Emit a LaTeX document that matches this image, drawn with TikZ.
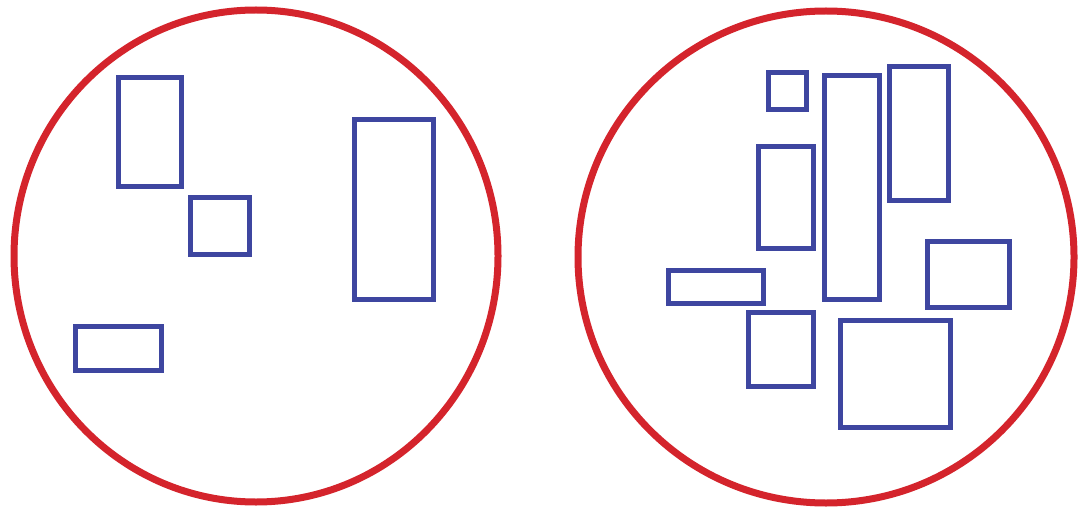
\documentclass[tikz,border=0pt]{standalone}
\definecolor{ringred}{RGB}{212,36,44}
\definecolor{boxblue}{RGB}{62,70,160}
\tikzset{ring/.style={draw=ringred,line width=7pt},
  blk/.style={draw=boxblue,line width=5pt}}
\begin{document}
\begin{tikzpicture}[x=1pt,y=-1pt]
\useasboundingbox[fill=white] (0,0) rectangle (1081,513);
% left circle
\draw[ring] (256,256) ellipse [x radius=242, y radius=246];
\draw[blk] (118.5,78) rectangle (181,187);
\draw[blk] (190.5,197.5) rectangle (249.5,254.5);
\draw[blk] (354,120) rectangle (433,299);
\draw[blk] (75,326) rectangle (161,370);
% right circle
\draw[ring] (826,257) ellipse [x radius=248, y radius=246];
\draw[blk] (768,73) rectangle (806,110);
\draw[blk] (758,147) rectangle (813,248);
\draw[blk] (824,76) rectangle (879,299);
\draw[blk] (889,67) rectangle (948,201);
\draw[blk] (927,241) rectangle (1009,307);
\draw[blk] (668,270) rectangle (763,303);
\draw[blk] (748,312) rectangle (813,386);
\draw[blk] (840,320) rectangle (950,427);
\end{tikzpicture}
\end{document}
